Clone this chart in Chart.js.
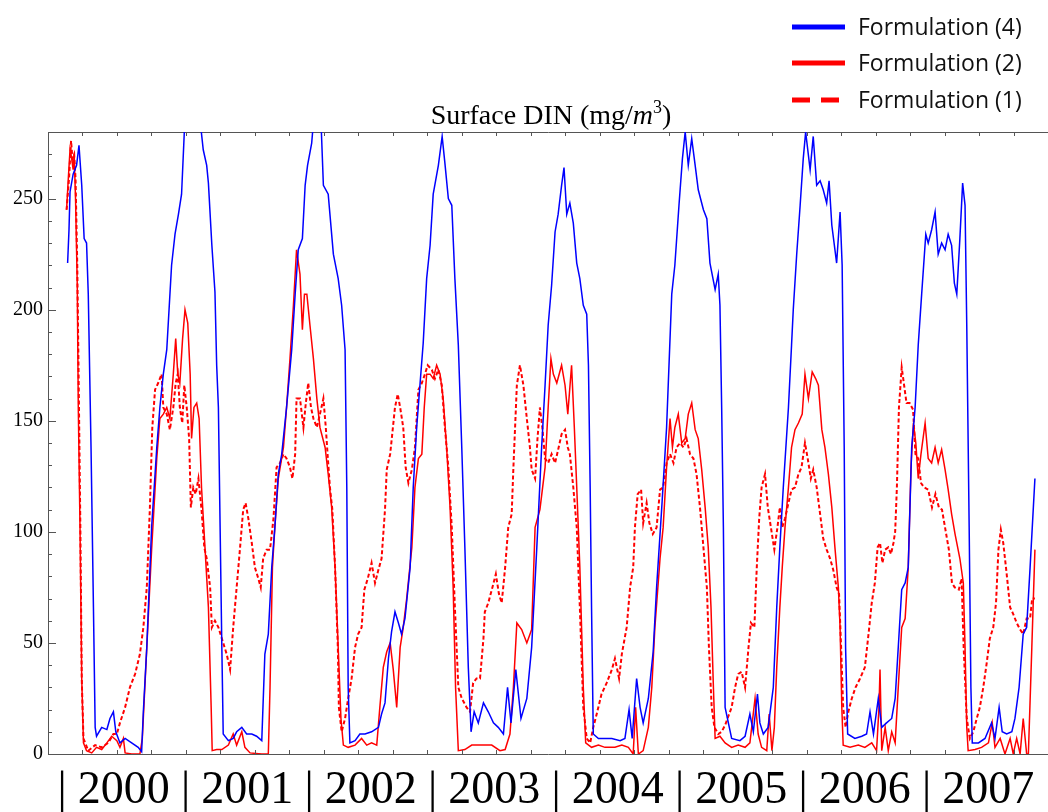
<!DOCTYPE html>
<html>
<head>
<meta charset="utf-8">
<script src="https://cdn.jsdelivr.net/npm/chart.js@4.4.1/dist/chart.umd.min.js"></script>
<style>
  html, body { margin: 0; padding: 0; background: #fff; }
  canvas { display: block; }
</style>
</head>
<body>
<canvas id="din" width="1048" height="812"></canvas>
<script>
// days since 1 Jan 2000, DIN in mg/m3
const blueDays = [57,61,64,73,83,90,98,105,112,117,125,132,137,141,156,171,180,190,197,209,224,243,262,272,277,287,301,316,325,335,345,359,369,379,388,396,404,418,433,444,451,461,466,476,485,490,495,500,505,509,524,538,548,563,577,592,606,621,630,640,650,659,669,679,693,708,718,727,739,747,754,766,773,784,793,800,814,829,843,853,863,868,872,877,892,906,921,940,960,969,979,989,998,1008,1018,1027,1037,1052,1061,1071,1081,1090,1100,1110,1119,1134,1145,1153,1163,1173,1182,1192,1202,1211,1221,1229,1238,1250,1265,1279,1294,1308,1323,1335,1345,1359,1374,1391,1405,1420,1434,1444,1453,1463,1473,1482,1492,1499,1507,1516,1526,1536,1545,1555,1565,1570,1575,1579,1584,1599,1618,1638,1662,1676,1688,1697,1710,1720,1729,1744,1758,1768,1783,1797,1812,1821,1833,1843,1851,1860,1870,1880,1889,1904,1914,1923,1938,1947,1952,1957,1962,1967,1986,2010,2025,2039,2049,2061,2068,2078,2092,2107,2117,2126,2136,2151,2160,2165,2175,2185,2194,2201,2214,2223,2233,2243,2252,2262,2269,2277,2291,2301,2307,2313,2317,2323,2344,2364,2378,2388,2398,2412,2422,2436,2451,2461,2470,2480,2490,2499,2509,2519,2528,2538,2550,2557,2567,2577,2586,2596,2606,2615,2625,2633,2640,2649,2657,2664,2669,2676,2681,2685,2703,2722,2741,2751,2763,2772,2785,2800,2809,2821,2833,2843,2853,2867];
const blueDin = [221,236,253,261,265,274,256,232,230,207,138,66,12,8,12,11,16,19,10,5,7,5,3,1,19,48,102,138,156,171,182,220,234,243,252,280,290,292,288,282,272,265,257,229,208,175,156,102,48,9,6,7,10,12,9,9,8,6,45,54,84,102,126,135,156,182,207,227,232,256,265,275,288,292,285,256,252,225,214,202,182,120,30,5,6,9,9,10,12,18,23,43,55,64,59,54,61,84,120,147,167,185,214,229,252,265,278,266,250,247,214,184,138,93,39,10,19,14,23,19,14,12,9,30,14,38,16,25,48,93,138,166,193,211,235,243,256,264,243,248,239,221,214,202,198,175,120,66,9,7,7,7,6,7,20,7,34,21,14,25,46,75,111,147,207,220,247,268,280,265,277,265,254,245,241,221,209,216,202,156,102,21,7,6,8,18,10,27,14,9,12,30,66,93,120,156,184,200,225,247,268,280,263,278,256,258,254,248,258,238,221,244,220,138,48,9,7,8,9,19,9,25,12,14,16,25,48,74,77,84,138,156,184,207,234,230,236,244,225,230,227,234,229,212,207,232,257,247,193,102,30,5,5,7,14,7,21,10,9,10,16,30,54,57,84,124];

const redDays = [54,59,64,69,73,76,80,85,88,93,98,103,112,127,141,156,171,185,200,209,219,224,243,267,274,287,301,316,325,335,345,354,364,371,377,383,391,398,406,413,417,424,432,439,446,456,466,474,477,490,505,524,538,548,563,572,587,621,640,645,652,659,669,684,693,703,713,722,732,739,745,752,761,771,781,790,805,814,824,834,843,851,858,872,892,911,926,940,955,964,974,984,994,1003,1013,1023,1032,1042,1057,1066,1076,1086,1093,1100,1110,1119,1129,1139,1148,1158,1168,1177,1184,1192,1211,1231,1250,1269,1289,1313,1328,1342,1352,1362,1376,1391,1405,1415,1429,1444,1453,1461,1468,1478,1492,1502,1510,1521,1529,1536,1545,1555,1562,1579,1599,1618,1647,1667,1686,1700,1707,1715,1729,1744,1754,1763,1778,1787,1797,1807,1814,1821,1831,1841,1851,1860,1870,1880,1889,1899,1909,1918,1926,1933,1938,1952,1967,1986,2005,2025,2039,2054,2063,2073,2088,2095,2103,2110,2117,2126,2133,2141,2151,2160,2170,2180,2191,2199,2209,2220,2230,2238,2248,2257,2267,2277,2286,2296,2301,2306,2310,2330,2354,2373,2393,2407,2414,2417,2422,2432,2441,2451,2461,2470,2480,2490,2499,2507,2514,2521,2528,2536,2548,2557,2567,2577,2586,2596,2606,2615,2625,2635,2649,2659,2664,2669,2673,2693,2712,2732,2743,2751,2766,2780,2795,2804,2814,2824,2833,2843,2848,2858,2867];
const redDin = [245,259,272,268,263,270,250,211,156,102,34,5,1.5,0.5,3,2,5,8,6,3,7,0.5,0,0,7,48,92,133,151,153,156,151,171,187,171,167,187,200,194,171,142,156,158,151,120,93,66,21,1.5,2,2,4,9,4,10,3,0.5,0,0,30,84,102,124,138,156,178,202,227,216,191,207,207,193,178,160,147,138,126,111,84,48,16,4,3,4,7,4,5,4,21,39,46,50,38,21,48,57,70,93,120,133,135,156,171,171,169,175,171,160,138,111,75,30,1.5,2,4,4,4,4,1.5,2,9,30,59,56,50,56,102,110,129,156,178,171,167,175,166,153,175,147,120,84,30,5,3,4,3,3,4,3,0,21,0,1.5,12,30,57,88,102,129,151,138,147,153,140,142,153,158,146,142,128,111,93,66,30,7,8,5,3,4,3,5,25,9,3,1.5,18,1.5,12,39,66,84,102,120,138,146,149,153,171,160,172,169,166,146,138,126,111,93,75,57,21,4,3,4,3,5,1.5,21,38,1.5,12,1.5,10,5,30,57,61,84,129,149,140,124,135,149,133,131,138,131,137,128,119,108,99,88,77,48,12,1.5,2,3,5,14,3,7,0,7,0,7,0,16,0,0,48,92];

const dashDays = [54,61,67,71,76,80,85,90,94,98,103,117,137,156,175,190,200,209,224,238,253,267,277,287,296,303,311,320,330,335,345,354,364,371,377,383,390,396,403,410,415,422,429,437,446,454,461,471,476,485,495,505,519,529,538,548,558,567,574,582,592,601,611,618,625,635,645,655,664,674,684,693,703,710,718,722,732,742,749,756,764,771,781,790,800,807,813,819,826,834,842,845,853,863,872,882,892,901,911,919,929,940,950,960,969,979,984,994,1000,1008,1016,1023,1032,1039,1047,1057,1066,1076,1086,1095,1103,1115,1124,1134,1144,1153,1163,1173,1182,1192,1202,1216,1226,1235,1245,1255,1265,1269,1279,1291,1301,1310,1318,1328,1337,1347,1352,1362,1371,1381,1391,1400,1405,1415,1422,1429,1436,1444,1453,1463,1473,1482,1492,1502,1510,1516,1526,1536,1545,1555,1565,1575,1584,1594,1608,1623,1638,1647,1659,1667,1681,1691,1700,1705,1713,1723,1729,1739,1747,1757,1768,1778,1787,1797,1807,1817,1826,1836,1846,1855,1865,1875,1884,1894,1904,1914,1920,1928,1936,1947,1957,1967,1986,1996,2005,2015,2025,2035,2042,2052,2059,2066,2073,2083,2091,2100,2110,2119,2126,2133,2141,2151,2160,2170,2180,2189,2199,2207,2216,2223,2233,2243,2252,2262,2272,2281,2291,2298,2304,2310,2317,2325,2335,2346,2359,2373,2385,2393,2402,2410,2417,2424,2432,2441,2449,2456,2461,2466,2472,2480,2487,2494,2503,2513,2520,2528,2536,2545,2557,2568,2578,2588,2597,2607,2617,2626,2634,2646,2654,2660,2669,2678,2688,2698,2707,2717,2727,2736,2746,2754,2761,2768,2775,2785,2795,2804,2814,2824,2833,2843,2853,2859,2867];
const dashDin = [245,259,276,268,270,259,220,156,102,34,7,1.5,4,3,5,9,9,14,21,30,36,45,57,75,111,147,164,167,171,156,153,146,156,167,171,156,149,166,156,142,111,120,117,124,110,93,88,75,57,60,57,52,45,38,57,75,93,110,113,106,95,84,79,75,88,92,92,106,129,131,135,133,129,124,135,160,160,147,158,167,156,151,147,153,160,147,133,120,110,84,48,21,10,16,25,34,48,54,57,74,79,86,77,83,88,110,128,135,144,156,162,156,147,129,122,128,138,164,167,171,175,173,169,173,166,147,129,102,66,30,25,21,19,32,34,34,52,64,68,75,81,72,68,84,102,108,129,166,175,166,151,138,128,124,142,156,147,133,131,135,131,137,144,146,138,135,120,102,66,21,7,5,12,18,27,32,38,43,34,45,57,75,84,102,117,119,104,113,104,99,102,119,120,131,135,131,138,140,138,142,135,133,126,111,93,75,48,21,12,9,10,13,21,30,36,37,30,48,59,57,84,106,120,126,111,102,92,102,111,102,106,113,119,120,126,129,140,133,124,128,120,108,97,92,88,83,75,72,48,21,12,19,25,30,34,39,56,68,77,93,95,86,92,93,90,95,100,120,156,174,166,158,158,155,135,133,122,120,119,111,117,111,110,101,92,77,75,74,79,48,16,7,10,16,21,30,41,52,57,68,92,101,95,81,66,63,59,56,54,61,61,70,70];

const seriesNames = ['Formulation (4)', 'Formulation (2)', 'Formulation (1)'];
const yearLabels = ['2000', '2001', '2002', '2003', '2004', '2005', '2006', '2007'];

const toPoints = (days, vals) => days.map((d, i) => ({ x: d, y: vals[i] }));

const frameColor = '#555';

// inward frame ticks like the original plot
const frameTicks = {
  id: 'frameTicks',
  afterDraw(chart) {
    const { ctx, chartArea: a, scales } = chart;
    ctx.save();
    ctx.strokeStyle = frameColor;
    ctx.lineWidth = 1;
    ctx.beginPath();
    scales.x.ticks.forEach(t => {
      const px = Math.round(scales.x.getPixelForValue(t.value)) + 0.5;
      ctx.moveTo(px, a.bottom); ctx.lineTo(px, a.bottom - 4);
      ctx.moveTo(px, a.top); ctx.lineTo(px, a.top + 4);
    });
    scales.y.ticks.forEach(t => {
      const py = Math.round(scales.y.getPixelForValue(t.value)) + 0.5;
      const len = t.value % 50 === 0 ? 8 : 4;
      ctx.moveTo(a.left, py); ctx.lineTo(a.left + len, py);
    });
    ctx.stroke();
    ctx.restore();
  }
};

// title with italic m and superscript 3
const titlePlugin = {
  id: 'titlePlugin',
  afterDraw(chart) {
    const { ctx, chartArea: a } = chart;
    const parts = [
      { t: 'Surface DIN (mg/', f: '28px "Liberation Serif"', dy: 0 },
      { t: 'm', f: 'italic 28px "Liberation Serif"', dy: 0 },
      { t: '3', f: '18px "Liberation Serif"', dy: -11 },
      { t: ')', f: '28px "Liberation Serif"', dy: 0 }
    ];
    ctx.save();
    let total = 0;
    parts.forEach(p => { ctx.font = p.f; p.w = ctx.measureText(p.t).width; total += p.w; });
    let x = (a.left + a.right) / 2 + 3 - total / 2;
    const base = a.top - 8;
    ctx.fillStyle = '#000';
    ctx.textBaseline = 'alphabetic';
    parts.forEach(p => { ctx.font = p.f; ctx.fillText(p.t, x, base + p.dy); x += p.w; });
    ctx.restore();
  }
};

// big year strip under the axis: "| 2000 | 2001 | ... |"
const yearStrip = {
  id: 'yearStrip',
  afterDraw(chart) {
    const { ctx, chartArea: a } = chart;
    const step = 123.5;
    const first = a.left + 14;
    ctx.save();
    ctx.fillStyle = '#000';
    ctx.font = '46px "Liberation Serif"';
    ctx.textBaseline = 'alphabetic';
    ctx.textAlign = 'center';
    for (let k = 0; k <= yearLabels.length; k++) {
      ctx.fillText('|', first + k * step, a.bottom + 49);
      if (k < yearLabels.length) ctx.fillText(yearLabels[k], first + (k + 0.5) * step, a.bottom + 49);
    }
    ctx.restore();
  }
};

// legend stacked at top right
const legendBox = {
  id: 'legendBox',
  afterDraw(chart) {
    const { ctx, width } = chart;
    const x0 = width - 256;
    const rows = [27, 63, 100];
    ctx.save();
    chart.data.datasets.forEach((ds, i) => {
      ctx.beginPath();
      ctx.strokeStyle = ds.borderColor;
      ctx.lineWidth = 5;
      ctx.setLineDash(ds.borderDash && ds.borderDash.length ? [18, 11] : []);
      ctx.moveTo(x0, rows[i]);
      ctx.lineTo(x0 + 53, rows[i]);
      ctx.stroke();
      ctx.setLineDash([]);
      ctx.fillStyle = '#111';
      ctx.font = '23px "Open Sans"';
      ctx.textBaseline = 'middle';
      ctx.fillText(ds.label, x0 + 66, rows[i] + 1);
    });
    ctx.restore();
  }
};

new Chart(document.getElementById('din'), {
  type: 'line',
  data: {
    datasets: [
      { label: seriesNames[0], data: toPoints(blueDays, blueDin), borderColor: '#0000ff', borderWidth: 1.5 },
      { label: seriesNames[1], data: toPoints(redDays, redDin), borderColor: '#ff0000', borderWidth: 1.5 },
      { label: seriesNames[2], data: toPoints(dashDays, dashDin), borderColor: '#ff0000', borderWidth: 2, borderDash: [4, 2.5] }
    ]
  },
  options: {
    responsive: false,
    animation: false,
    devicePixelRatio: 1,
    elements: { point: { radius: 0 }, line: { tension: 0 } },
    layout: { padding: { top: 132, bottom: 58, left: 0, right: 0 } },
    plugins: { legend: { display: false }, title: { display: false }, tooltip: { enabled: false } },
    scales: {
      x: {
        type: 'linear', position: 'bottom', min: 0, max: 2905,
        ticks: { display: false, stepSize: 100 },
        grid: { display: false, drawTicks: false },
        border: { display: true, color: frameColor, width: 1 },
        afterFit: s => { s.height = 0; }
      },
      x2: {
        type: 'linear', position: 'top', min: 0, max: 2905, display: true,
        ticks: { display: false, stepSize: 100 },
        grid: { display: false, drawTicks: false },
        border: { display: true, color: frameColor, width: 1 },
        afterFit: s => { s.height = 0; }
      },
      y: {
        min: 0, max: 280,
        ticks: {
          stepSize: 10, autoSkip: false, padding: 5, color: '#000',
          font: { family: 'Liberation Serif', size: 20 },
          callback: v => (v % 50 === 0 ? v : '')
        },
        grid: { display: false, drawTicks: false },
        border: { display: true, color: frameColor, width: 1 },
        afterFit: s => { s.width = 48; }
      }
    }
  },
  plugins: [frameTicks, titlePlugin, yearStrip, legendBox]
});
</script>
</body>
</html>
